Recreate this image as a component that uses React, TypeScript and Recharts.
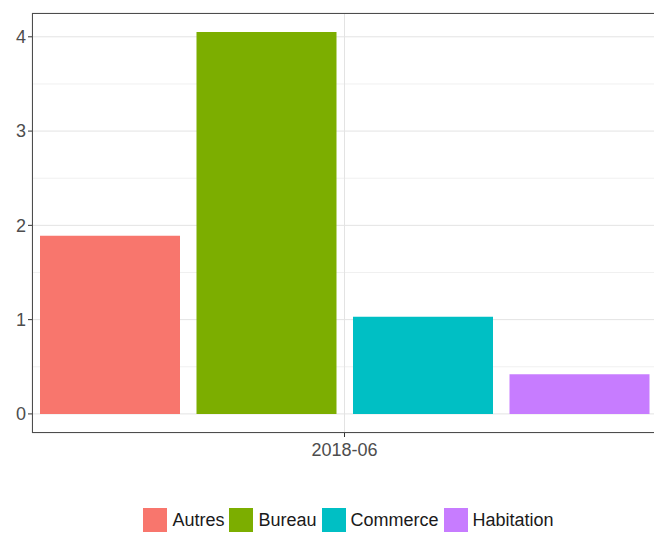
import React from 'react';
import { BarChart, Bar, XAxis, YAxis, CartesianGrid } from 'recharts';

const PERIODS = ['2018-06'];
const SERIES = ['Autres', 'Bureau', 'Commerce', 'Habitation'];
const VALUES = [1.89, 4.05, 1.03, 0.42];
const COLORS = ['#F8766D', '#7CAE00', '#00BFC4', '#C77CFF'];
const Y_TICKS = [0, 1, 2, 3, 4];
const Y_MINOR = [0.5, 1.5, 2.5, 3.5];

const DATA = PERIODS.map((p) => {
  const row: Record<string, string | number> = { period: p };
  SERIES.forEach((s, i) => { row[s] = VALUES[i]; });
  return row;
});

const FONT = '"Liberation Sans", Arial, sans-serif';

export default function App() {
  return (
    <div style={{ position: 'relative', width: 662, height: 533, margin: '-8px 0 0 -8px', background: '#fff', fontFamily: FONT }}>
      <BarChart
        width={662}
        height={533}
        data={DATA}
        margin={{ top: 13, right: 5, left: 0, bottom: 70 }}
        barSize={140}
        barGap={16.5}
      >
        {/* minor grid first, then the major one */}
        <CartesianGrid vertical={false} horizontalValues={Y_MINOR} stroke="#f0f0f0" />
        <CartesianGrid stroke="#e3e3e3" />
        <XAxis
          dataKey="period"
          height={30}
          axisLine={false}
          tickLine={{ stroke: '#333' }}
          tickSize={4}
          tickMargin={6}
          tick={{ fontSize: 18, fill: '#4d4d4d', fontFamily: FONT }}
        />
        <YAxis
          type="number"
          width={32}
          domain={[-0.2025, 4.2525]}
          allowDataOverflow
          ticks={Y_TICKS}
          axisLine={false}
          tickLine={{ stroke: '#333' }}
          tickSize={4}
          tick={{ fontSize: 18, fill: '#4d4d4d', fontFamily: FONT }}
        />
        {SERIES.map((s, i) => (
          <Bar key={s} dataKey={s} fill={COLORS[i]} isAnimationActive={false} />
        ))}
      </BarChart>
      <div style={{ position: 'absolute', left: 32, top: 13, width: 625, height: 420, border: '1px solid #4d4d4d', boxSizing: 'border-box', pointerEvents: 'none' }} />
      {/* legend centred under the panel, like ggplot */}
      <div style={{ position: 'absolute', left: 36, width: 625, top: 508, display: 'flex', justifyContent: 'center', alignItems: 'center', fontSize: 18, color: '#1a1a1a' }}>
        {SERIES.map((s, i) => (
          <div key={s} style={{ display: 'flex', alignItems: 'center', marginRight: i < SERIES.length - 1 ? 5 : 0 }}>
            <div style={{ width: 24, height: 24, background: COLORS[i], marginRight: 5 }} />
            <span>{s}</span>
          </div>
        ))}
      </div>
    </div>
  );
}
